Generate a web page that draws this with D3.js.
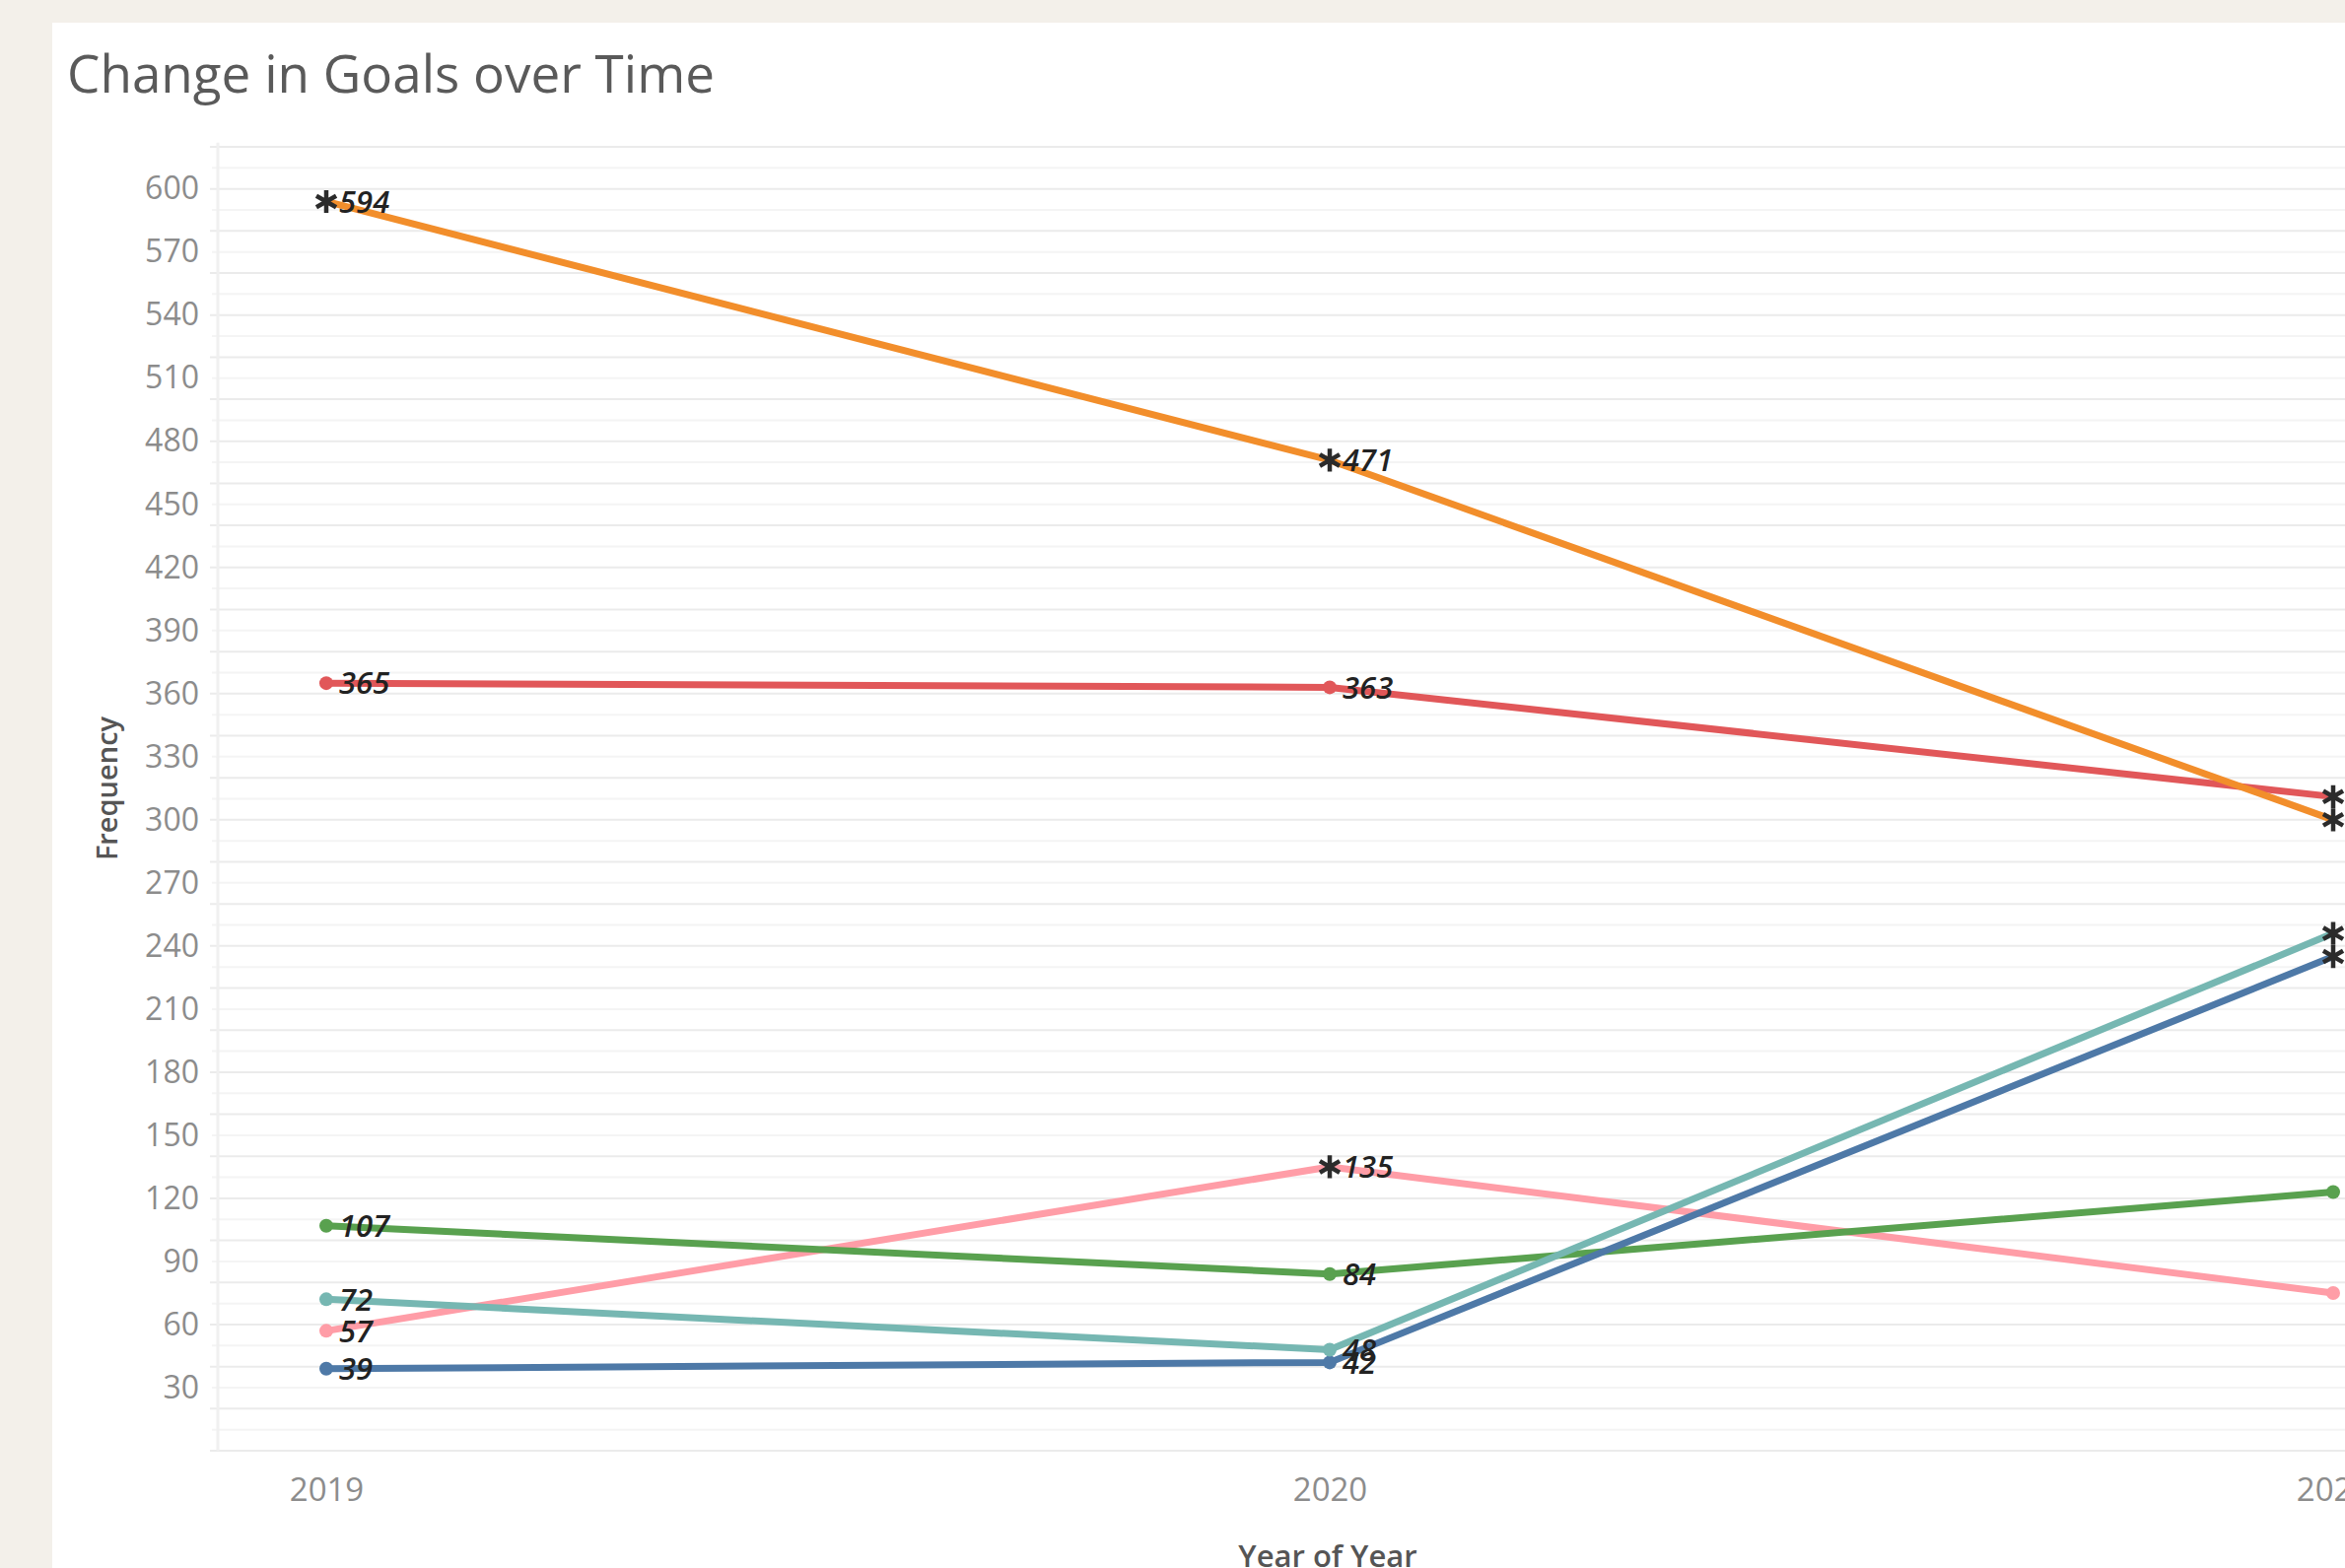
<!DOCTYPE html>
<html>
<head>
<meta charset="utf-8">
<script src="https://cdn.jsdelivr.net/npm/d3@7"></script>
<style>
  html, body { margin: 0; padding: 0; background: #f3f0ea; overflow: hidden; }
  svg { display: block; }
</style>
</head>
<body>
<svg id="chart" width="2379" height="1591"></svg>
<script>
// ---- data ----
const years = ["2019", "2020", "2021"];
const yTickLabels = [30, 60, 90, 120, 150, 180, 210, 240, 270, 300, 330, 360, 390, 420, 450, 480, 510, 540, 570, 600];

const seriesNames = ["Pink", "Green", "Red", "Blue", "Teal", "Orange"];
const pinkValues   = [57, 135, 75];
const greenValues  = [107, 84, 123];
const redValues    = [365, 363, 311];
const blueValues   = [39, 42, 235];
const tealValues   = [72, 48, 246];
const orangeValues = [594, 471, 300];

const pinkShapes   = ["circle", "star", "circle"];
const greenShapes  = ["circle", "circle", "circle"];
const redShapes    = ["circle", "circle", "star"];
const blueShapes   = ["circle", "circle", "star"];
const tealShapes   = ["circle", "circle", "star"];
const orangeShapes = ["star", "star", "star"];

const seriesColors = ["#ff9da7", "#59a14f", "#e15759", "#4e79a7", "#76b7b2", "#f28e2b"];

const series = [
  { name: seriesNames[0], values: pinkValues,   shapes: pinkShapes,   color: seriesColors[0] },
  { name: seriesNames[1], values: greenValues,  shapes: greenShapes,  color: seriesColors[1] },
  { name: seriesNames[2], values: redValues,    shapes: redShapes,    color: seriesColors[2] },
  { name: seriesNames[3], values: blueValues,   shapes: blueShapes,   color: seriesColors[3] },
  { name: seriesNames[4], values: tealValues,   shapes: tealShapes,   color: seriesColors[4] },
  { name: seriesNames[5], values: orangeValues, shapes: orangeShapes, color: seriesColors[5] }
];

// ---- layout ----
const W = 2379, H = 1591;
const svg = d3.select("#chart");
const FONT = "'Open Sans', 'Noto Sans', sans-serif";

// white panel
svg.append("rect").attr("x", 53).attr("y", 23).attr("width", W).attr("height", H).attr("fill", "#ffffff");

// title
svg.append("text")
  .attr("x", 68).attr("y", 94)
  .attr("font-family", FONT).attr("font-size", 53).attr("font-weight", 400)
  .attr("fill", "#5a5a5a")
  .text("Change in Goals over Time");

const plotLeft = 221, plotRight = W + 200;
const x = d3.scalePoint().domain(years).range([331, 2367]);
const y = d3.scaleLinear().domain([0, 620]).range([1472, 149]);

// gridlines: minor every 10, major every 20
const grid = svg.append("g");
grid.selectAll("line.minor")
  .data(d3.range(10, 621, 20))
  .join("line")
  .attr("x1", plotLeft - 6).attr("x2", plotRight)
  .attr("y1", d => y(d)).attr("y2", d => y(d))
  .attr("stroke", "#f4f4f4").attr("stroke-width", 2);
grid.selectAll("line.major")
  .data(d3.range(0, 621, 20))
  .join("line")
  .attr("x1", plotLeft - 8).attr("x2", plotRight)
  .attr("y1", d => y(d)).attr("y2", d => y(d))
  .attr("stroke", "#ebebeb").attr("stroke-width", 2);
// faint vertical axis line
grid.append("line")
  .attr("x1", plotLeft).attr("x2", plotLeft)
  .attr("y1", y(622)).attr("y2", y(0))
  .attr("stroke", "#f0f0f0").attr("stroke-width", 3);

// y axis
const yAxis = svg.append("g")
  .attr("transform", `translate(${plotLeft},0)`)
  .call(d3.axisLeft(y).tickValues(yTickLabels).tickSize(0).tickPadding(19).tickFormat(d3.format("d")));
yAxis.select(".domain").remove();
yAxis.selectAll("text")
  .attr("font-family", FONT).attr("font-size", 32).attr("fill", "#8c8c8c");

// x axis
const xAxis = svg.append("g")
  .attr("transform", `translate(0,${y(0)})`)
  .call(d3.axisBottom(x).tickSize(0).tickPadding(28));
xAxis.select(".domain").remove();
xAxis.selectAll("text")
  .attr("font-family", FONT).attr("font-size", 33).attr("fill", "#8c8c8c");

// axis titles
svg.append("text")
  .attr("x", 1347).attr("y", 1590)
  .attr("text-anchor", "middle")
  .attr("font-family", FONT).attr("font-size", 31).attr("font-weight", 600)
  .attr("fill", "#555555")
  .text("Year of Year");

svg.append("text")
  .attr("transform", "translate(119,800) rotate(-90)")
  .attr("text-anchor", "middle")
  .attr("font-family", FONT).attr("font-size", 29).attr("font-weight", 600)
  .attr("fill", "#555555")
  .text("Frequency");

// lines
const line = d3.line()
  .x((d, i) => x(years[i]))
  .y(d => y(d));

const gSeries = svg.append("g");
series.forEach(s => {
  gSeries.append("path")
    .datum(s.values)
    .attr("d", line)
    .attr("fill", "none")
    .attr("stroke", s.color)
    .attr("stroke-width", 7)
    .attr("stroke-linejoin", "round");
});

// markers and labels (drawn on top)
const gMarks = svg.append("g");
series.forEach(s => {
  s.values.forEach((v, i) => {
    const cx = x(years[i]), cy = y(v);
    if (s.shapes[i] === "star") {
      gMarks.append("path")
        .attr("transform", `translate(${cx},${cy})`)
        .attr("d", d3.symbol(d3.symbolAsterisk, 380)())
        .attr("fill", "none")
        .attr("stroke", "#2b2b2b")
        .attr("stroke-width", 4.5);
    } else {
      gMarks.append("circle")
        .attr("cx", cx).attr("cy", cy).attr("r", 7)
        .attr("fill", s.color);
    }
    gMarks.append("text")
      .attr("x", cx + 13).attr("y", cy)
      .attr("dy", "0.36em")
      .attr("font-family", FONT).attr("font-size", 31).attr("font-style", "italic").attr("font-weight", 600)
      .attr("fill", "#222222")
      .text(v);
  });
});
</script>
</body>
</html>
